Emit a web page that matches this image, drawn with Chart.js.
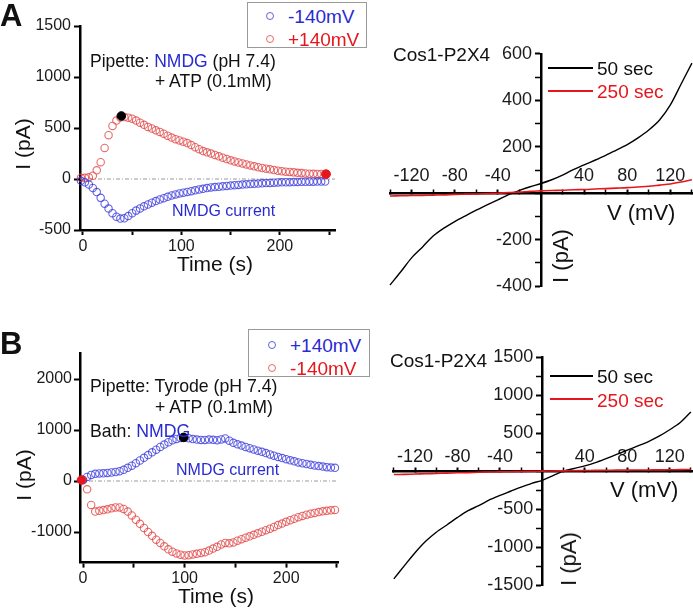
<!DOCTYPE html>
<html><head><meta charset="utf-8">
<script src="https://cdn.jsdelivr.net/npm/chart.js@4.4.1/dist/chart.umd.min.js"></script>
<style>
body{margin:0;background:#fff;}
#wrap{position:relative;width:693px;height:609px;overflow:hidden;font-family:"Liberation Sans",Arial,sans-serif;color:#111;}
canvas{position:absolute;}
.t{position:absolute;white-space:nowrap;line-height:1;transform:translateY(-50%);}
.c{position:absolute;white-space:nowrap;line-height:1;transform:translate(-50%,-50%);}
.rot{position:absolute;white-space:nowrap;line-height:1;transform:translate(-50%,-50%) rotate(-90deg);}
.blue{color:#2a2ad2;} .red{color:#e5171c;}
.box{position:absolute;border:1px solid #9a9a9a;background:#fff;box-sizing:border-box;}
.mk{position:absolute;width:8px;height:8px;border-radius:50%;border:1.2px solid;box-sizing:border-box;transform:translate(-50%,-50%);}
.ln{position:absolute;height:2px;transform:translateY(-50%);}
</style></head>
<body>
<div id="wrap">
<canvas id="cA" width="345" height="300" style="left:0;top:0"></canvas>
<canvas id="cAiv" width="313" height="260" style="left:380px;top:40px"></canvas>
<canvas id="cB" width="345" height="309" style="left:0;top:300px"></canvas>
<canvas id="cBiv" width="313" height="269" style="left:380px;top:340px"></canvas>

<!-- Panel A -->
<div class="t" style="left:0;top:15px;font-size:31px;font-weight:bold">A</div>
<div class="box" style="left:247px;top:2px;width:120px;height:46px"></div>
<div class="mk" style="left:270px;top:16px;border-color:rgba(60,60,220,.8)"></div>
<div class="t blue" style="left:288px;top:16px;font-size:19px">-140mV</div>
<div class="mk" style="left:270px;top:39px;border-color:rgba(225,70,70,.8)"></div>
<div class="t red" style="left:288px;top:39px;font-size:19px">+140mV</div>
<div class="t" style="left:90px;top:62px;font-size:17.5px">Pipette: <span class="blue">NMDG</span> (pH 7.4)</div>
<div class="t" style="left:155px;top:82px;font-size:17.5px">+ ATP (0.1mM)</div>
<div class="t blue" style="left:172px;top:211px;font-size:16px">NMDG current</div>
<div class="rot" style="left:22px;top:144px;font-size:21px">I (pA)</div>
<div class="c" style="left:215px;top:263px;font-size:21px">Time (s)</div>

<div class="t" style="left:393px;top:54px;font-size:19px">Cos1-P2X4</div>
<div class="ln" style="left:548px;top:68px;width:45px;background:#000"></div>
<div class="t" style="left:597px;top:68px;font-size:19px">50 sec</div>
<div class="ln" style="left:548px;top:91px;width:45px;background:#e5171c"></div>
<div class="t red" style="left:597px;top:91px;font-size:19px">250 sec</div>
<div class="t" style="left:607px;top:213px;font-size:22px">V (mV)</div>
<div class="rot" style="left:561px;top:256px;font-size:22px">I (pA)</div>

<!-- Panel B -->
<div class="t" style="left:0;top:343px;font-size:31px;font-weight:bold">B</div>
<div class="box" style="left:248px;top:329px;width:122px;height:48px"></div>
<div class="mk" style="left:272px;top:345px;border-color:rgba(60,60,220,.8)"></div>
<div class="t blue" style="left:290px;top:345px;font-size:19px">+140mV</div>
<div class="mk" style="left:272px;top:368px;border-color:rgba(225,70,70,.8)"></div>
<div class="t red" style="left:290px;top:368px;font-size:19px">-140mV</div>
<div class="t" style="left:90px;top:387px;font-size:17.7px">Pipette: Tyrode (pH 7.4)</div>
<div class="t" style="left:155px;top:408px;font-size:17.7px">+ ATP (0.1mM)</div>
<div class="t" style="left:90px;top:432px;font-size:17.7px">Bath: <span class="blue">NMDG</span></div>
<div class="t blue" style="left:176px;top:470px;font-size:16px">NMDG current</div>
<div class="rot" style="left:23px;top:475px;font-size:21px">I (pA)</div>
<div class="c" style="left:216px;top:595px;font-size:21px">Time (s)</div>

<div class="t" style="left:390px;top:360px;font-size:19px">Cos1-P2X4</div>
<div class="ln" style="left:550px;top:376px;width:43px;background:#000"></div>
<div class="t" style="left:597px;top:376px;font-size:19px">50 sec</div>
<div class="ln" style="left:550px;top:399px;width:43px;background:#e5171c"></div>
<div class="t red" style="left:597px;top:400px;font-size:19px">250 sec</div>
<div class="t" style="left:610px;top:490px;font-size:22px">V (mV)</div>
<div class="rot" style="left:569px;top:559px;font-size:22px">I (pA)</div>
</div>

<script>
// ---------- Panel A (left): time course ----------
const aTime = [-2,2,6,10,14,18,22,26,30,34,38,42,46,50,54,58,62,66,70,74,78,82,86,90,94,98,102,106,110,114,118,122,126,130,134,138,142,146,150,154,158,162,166,170,174,178,182,186,190,194,198,202,206,210,214,218,222,226,230,234,238,242,246];
const aNeg140 = [-18,-33,-55,-88,-128,-185,-242,-290,-335,-370,-388,-385,-363,-336,-310,-288,-268,-250,-232,-216,-201,-188,-175,-162,-151,-141,-134,-127,-119,-111,-103,-96,-89,-83,-79,-76,-72,-68,-64,-61,-58,-55,-52,-49,-47,-45,-42,-40,-38,-36,-34,-33,-32,-31,-30,-29,-28,-27,-26,-26,-25,-25,-25];
const aPos140 = [12,12,16,32,85,165,305,430,520,573,603,608,601,591,573,552,531,511,495,477,462,444,425,406,390,378,366,352,333,312,292,274,262,249,236,222,209,196,183,172,162,152,143,133,124,115,108,101,95,88,81,76,72,69,65,61,58,55,52,51,50,49,48];
const aPeakDot = [{x:39, y:618}];
const aEndDot = [{x:247, y:48}];
const aXRange = [-3, 256], aYRange = [-500, 1500];
const aXTicks = [0,50,100,150,200,250], aXLabels = [0,100,200];
const aYTicks = [-500,0,500,1000,1500];

// ---------- Panel B (left): time course ----------
const bTime = [0,4,8,12,16,20,24,28,32,36,40,44,48,52,56,60,64,68,72,76,80,84,88,92,96,100,104,108,112,116,120,124,128,132,136,140,144,148,152,156,160,164,168,172,176,180,184,188,192,196,200,204,208,212,216,220,224,228,232,236,240,244,248];
const bPos140 = [20,80,120,140,148,150,158,167,176,192,220,258,300,350,402,455,508,562,615,668,715,760,798,825,845,850,838,822,812,805,806,812,808,800,815,835,790,748,720,695,668,643,618,595,572,548,522,497,472,450,428,405,385,365,348,333,318,305,292,282,272,264,258];
const bNeg140 = [20,-163,-470,-600,-585,-570,-555,-535,-520,-518,-548,-600,-675,-760,-840,-920,-1000,-1075,-1150,-1215,-1280,-1340,-1385,-1420,-1445,-1460,-1455,-1440,-1428,-1410,-1395,-1365,-1325,-1290,-1245,-1215,-1222,-1205,-1170,-1140,-1112,-1085,-1055,-1025,-995,-965,-935,-900,-865,-835,-800,-770,-740,-710,-685,-660,-640,-625,-610,-595,-585,-575,-568];
const bPeakDot = [{x:99, y:855}];
const bStartDot = [{x:-1.5, y:20}];
const bXRange = [-3, 251], bYRange = [-1600, 2500];
const bXTicks = [0,50,100,150,200,250], bXLabels = [0,100,200];
const bYTicks = [-1000,0,1000,2000];

// ---------- I-V curves ----------
const ivV = [-140,-130,-120,-110,-100,-90,-80,-70,-60,-50,-40,-30,-20,-10,0,10,20,30,40,50,60,70,80,90,100,110,120,130,140];
const ivA50s  = [-395,-338,-278,-232,-184,-150,-122,-97,-73,-50,-29,-6,12,28,42,58,78,102,122,142,163,186,209,238,272,315,380,470,560];
const ivA250s = [-12,-11,-10,-9,-8,-7,-5,-4,-3,-1,0,3,5,8,10,12,13,15,16,18,20,22,24,27,30,35,40,48,58];
const ivB50s  = [-1420,-1245,-1075,-925,-805,-709,-610,-520,-455,-380,-320,-265,-210,-160,-121,-58,0,35,70,113,165,220,277,332,390,460,545,640,780];
const ivB250s = [-45,-42,-38,-34,-30,-26,-22,-19,-15,-12,-10,-7,-5,-2,0,2,4,6,8,10,11,13,14,15,16,17,18,20,22];
const ivXTicks = [-140,-120,-100,-80,-60,-40,-20,0,20,40,60,80,100,120,140];
const ivXLabels = [-120,-80,-40,40,80,120];
const ivAYTicks = [-400,-300,-200,-100,0,100,200,300,400,500,600];
const ivAYLabels = [-400,-200,200,400,600];
const ivBYTicks = [-1500,-1250,-1000,-750,-500,-250,0,250,500,750,1000,1250,1500];
const ivBYLabels = [-1500,-1000,-500,500,1000,1500];
const ivARange = {x:[-140,141], y:[-400,600]};
const ivBRange = {x:[-140.5,142], y:[-1500,1500]};

Chart.defaults.font.family = '"Liberation Sans", Arial, sans-serif';
Chart.defaults.color = '#1a1a1a';

const BLUE_PT = 'rgba(60,60,220,0.8)';
const RED_PT = 'rgba(225,70,70,0.8)';

const zeroLine = {
  id: 'zeroLine',
  beforeDatasetsDraw(chart) {
    const {ctx, chartArea: a, scales: {y}} = chart;
    const py = y.getPixelForValue(0);
    ctx.save();
    ctx.strokeStyle = '#9a9a9a';
    ctx.lineWidth = 1;
    ctx.setLineDash([4, 2, 1, 2]);
    ctx.beginPath();
    ctx.moveTo(a.left, py);
    ctx.lineTo(a.right, py);
    ctx.stroke();
    ctx.restore();
  }
};

function pts(xs, ys) { return xs.map((x, i) => ({x: x, y: ys[i]})); }

function timeChart(id, c) {
  return new Chart(document.getElementById(id), {
    type: 'scatter',
    data: { datasets: [
      {data: c.dotBlack, pointRadius: 4.3, pointBackgroundColor: '#000', pointBorderColor: '#000', clip: false},
      {data: c.dotRed, pointRadius: 4.3, pointBackgroundColor: '#e5171c', pointBorderColor: '#e5171c', clip: false},
      {data: c.blue, pointRadius: 3.7, pointBorderWidth: 1.1, pointBackgroundColor: 'rgba(0,0,0,0)', pointBorderColor: BLUE_PT, clip: false},
      {data: c.red, pointRadius: 3.7, pointBorderWidth: 1.1, pointBackgroundColor: 'rgba(0,0,0,0)', pointBorderColor: RED_PT, clip: false}
    ]},
    options: {
      responsive: false, animation: false, events: [],
      layout: {padding: {top: c.padTop, right: c.padRight, left: 0, bottom: 0}},
      plugins: {legend: {display: false}, tooltip: {enabled: false}},
      scales: {
        x: {
          type: 'linear', min: c.xRange[0], max: c.xRange[1],
          afterFit: s => { s.height = c.xH; },
          afterBuildTicks: s => { s.ticks = c.xTicks.map(v => ({value: v})); },
          ticks: {callback: v => c.xLabels.includes(v) ? String(v) : '', autoSkip: false, maxRotation: 0, padding: c.xPad, font: {size: 16}},
          grid: {drawOnChartArea: false, tickLength: 5, color: '#000', tickWidth: 2},
          border: {color: '#000', width: 2.5}
        },
        y: {
          type: 'linear', min: c.yRange[0], max: c.yRange[1],
          afterFit: s => { s.width = 80; },
          afterBuildTicks: s => { s.ticks = c.yTicks.map(v => ({value: v})); },
          ticks: {callback: v => String(v), autoSkip: false, padding: c.yPad, font: {size: 16}},
          grid: {drawOnChartArea: false, tickLength: 6, color: '#000', tickWidth: 2},
          border: {color: '#000', width: 2.5}
        }
      }
    },
    plugins: [zeroLine]
  });
}

function ivChart(id, c) {
  return new Chart(document.getElementById(id), {
    type: 'scatter',
    data: { datasets: [
      {data: pts(ivV, c.red), showLine: true, borderColor: '#e5171c', borderWidth: 1.6, pointRadius: 0, tension: 0.3, clip: false},
      {data: pts(ivV, c.black), showLine: true, borderColor: '#000', borderWidth: 1.4, pointRadius: 0, tension: 0.3, clip: false}
    ]},
    options: {
      responsive: false, animation: false, events: [],
      layout: {padding: c.pad},
      plugins: {legend: {display: false}, tooltip: {enabled: false}},
      scales: {
        x: {
          type: 'linear', position: {y: 0}, min: c.range.x[0], max: c.range.x[1],
          afterBuildTicks: s => { s.ticks = ivXTicks.map(v => ({value: v})); },
          ticks: {callback: v => ivXLabels.includes(v) ? String(v) : '', autoSkip: false, maxRotation: 0, padding: c.xPad, font: {size: 18}},
          grid: {drawOnChartArea: false, tickLength: -5, color: '#000', tickWidth: ctx => (ctx.tick && ivXLabels.includes(ctx.tick.value)) ? 2 : 1.5},
          border: {color: '#000', width: 2.5}
        },
        y: {
          type: 'linear', position: {x: 0}, min: c.range.y[0], max: c.range.y[1],
          afterBuildTicks: s => { s.ticks = c.yTicks.map(v => ({value: v})); },
          ticks: {callback: v => c.yLabels.includes(v) ? String(v) + '\u2002' : '', autoSkip: false, font: {size: 18}},
          grid: {drawOnChartArea: false, tickLength: 5, color: '#000', tickWidth: ctx => (ctx.tick && c.yLabels.includes(ctx.tick.value)) ? 2 : 1.5},
          border: {color: '#000', width: 2.5}
        }
      }
    }
  });
}

timeChart('cA', {
  blue: pts(aTime, aNeg140), red: pts(aTime, aPos140), dotBlack: aPeakDot, dotRed: aEndDot,
  xRange: aXRange, yRange: aYRange, xTicks: aXTicks, xLabels: aXLabels, yTicks: aYTicks,
  padTop: 26, padRight: 10, xH: 70, xPad: 2, yPad: 3
});
timeChart('cB', {
  blue: pts(bTime, bPos140), red: pts(bTime, bNeg140), dotBlack: bPeakDot, dotRed: bStartDot,
  xRange: bXRange, yRange: bYRange, xTicks: bXTicks, xLabels: bXLabels, yTicks: bYTicks,
  padTop: 53.5, padRight: 7, xH: 46.4, xPad: 1, yPad: 2
});
ivChart('cAiv', {
  black: ivA50s, red: ivA250s, range: ivARange, yTicks: ivAYTicks, yLabels: ivAYLabels,
  pad: {left: 10, top: 11, right: 0, bottom: 13}, xPad: -23
});
ivChart('cBiv', {
  black: ivB50s, red: ivB250s, range: ivBRange, yTicks: ivBYTicks, yLabels: ivBYLabels,
  pad: {left: 13.3, top: 17.3, right: 0, bottom: 24}, xPad: -20
});
</script>
</body></html>
